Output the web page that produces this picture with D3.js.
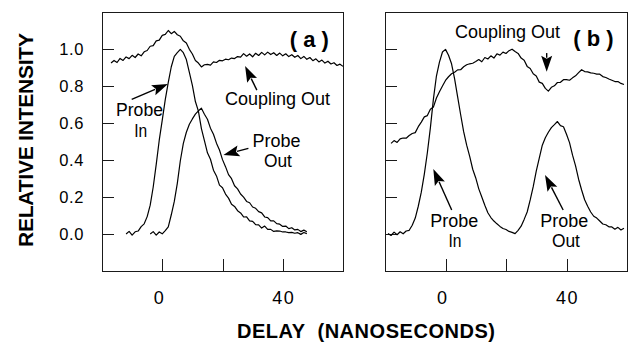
<!DOCTYPE html>
<html><head><meta charset="utf-8">
<script src="https://cdn.jsdelivr.net/npm/d3@7"></script>
<style>
body{margin:0;background:#fff;}
svg{display:block;}
text{font-family:"Liberation Sans",Arial,Helvetica,sans-serif;fill:#000;}
</style>
</head><body><div id="chart"></div>
<script>
// ---------- data ----------
const yTicks = [0.0, 0.2, 0.4, 0.6, 0.8, 1.0];
const yTickLabels = ["0.0", "0.2", "0.4", "0.6", "0.8", "1.0"];
const xTicks = [0, 20, 40];
const xTickLabels = ["0", "", "40"];
const xDomain = [-20, 60];
const yDomain = [-0.2, 1.2];
const xTitle = "DELAY  (NANOSECONDS)";
const yTitle = "RELATIVE INTENSITY";

// Panel (a): samples every 1 ns starting at the given delay
const couplingA_start = -17;
const couplingA = [
 0.924,0.938,0.927,0.949,0.938,0.957,0.948,0.966,0.954,0.973,
 0.963,0.985,0.992,1.015,1.018,1.044,1.048,1.074,1.079,1.100,
 1.083,1.095,1.077,1.069,1.044,1.033,0.998,0.973,0.938,0.924,
 0.903,0.915,0.917,0.913,0.930,0.927,0.939,0.936,0.945,0.942,
 0.951,0.948,0.959,0.956,0.975,0.961,0.973,0.958,0.977,0.965,
 0.982,0.968,0.983,0.970,0.980,0.965,0.978,0.963,0.974,0.959,
 0.969,0.955,0.965,0.948,0.960,0.944,0.954,0.937,0.947,0.930,
 0.940,0.924,0.934,0.919,0.926,0.911,0.918,0.906];
const probeInA_start = -12;
const probeInA = [
 0.000,0.014,-0.006,0.012,0.016,0.040,0.055,0.094,0.156,0.254,
 0.376,0.507,0.616,0.726,0.820,0.904,0.960,0.980,0.998,0.980,
 0.943,0.874,0.803,0.716,0.664,0.570,0.505,0.439,0.404,0.345,
 0.314,0.264,0.250,0.216,0.194,0.161,0.149,0.126,0.114,0.092,
 0.093,0.071,0.068,0.051,0.049,0.032,0.043,0.025,0.025,0.014,
 0.017,0.016,0.011,0.011,0.007,0.009,0.004,0.007,-0.002,0.008,
 0.002];
const probeOutA_start = -4;
const probeOutA = [
 0.000,0.013,-0.006,0.011,0.001,0.018,0.039,0.104,0.176,0.274,
 0.396,0.490,0.550,0.593,0.622,0.648,0.666,0.680,0.647,0.620,
 0.572,0.539,0.491,0.454,0.402,0.364,0.321,0.299,0.261,0.244,
 0.216,0.199,0.176,0.169,0.146,0.139,0.121,0.114,0.092,0.089,
 0.071,0.071,0.056,0.053,0.041,0.043,0.029,0.034,0.022,0.025,
 0.013,0.021,0.012];

// Panel (b)
const couplingB_start = -18;
const couplingB = [
 0.490,0.505,0.495,0.514,0.519,0.518,0.532,0.543,0.548,0.580,
 0.605,0.633,0.640,0.674,0.686,0.735,0.769,0.800,0.830,0.850,
 0.866,0.874,0.887,0.888,0.904,0.915,0.920,0.923,0.932,0.943,
 0.931,0.954,0.946,0.963,0.951,0.974,0.967,0.983,0.976,0.991,
 0.999,0.986,0.976,0.951,0.939,0.906,0.895,0.866,0.854,0.821,
 0.814,0.787,0.772,0.793,0.801,0.819,0.820,0.834,0.834,0.831,
 0.844,0.855,0.872,0.888,0.878,0.876,0.871,0.869,0.864,0.864,
 0.851,0.846,0.838,0.831,0.824,0.824,0.814,0.808];
const probeB_start = -19;
const probeB = [
 0.003,-0.008,0.010,-0.004,0.012,0.001,0.016,0.020,0.047,0.086,
 0.150,0.226,0.324,0.439,0.574,0.729,0.854,0.929,0.984,0.998,
 0.966,0.920,0.840,0.743,0.646,0.553,0.480,0.420,0.350,0.303,
 0.244,0.200,0.155,0.115,0.089,0.070,0.055,0.041,0.030,0.024,
 0.014,0.009,0.002,0.020,0.042,0.079,0.119,0.184,0.256,0.340,
 0.410,0.480,0.520,0.550,0.575,0.591,0.608,0.586,0.580,0.539,
 0.494,0.426,0.368,0.296,0.238,0.185,0.150,0.119,0.096,0.086,
 0.070,0.054,0.050,0.039,0.038,0.026,0.036,0.022,0.031];

// annotations in data coordinates (delay, intensity)
const labelsA = [
 {text:"Probe", t:-7.55, v:0.638, w:47},
 {text:"In", t:-7.15, v:0.524, w:13},
 {text:"Coupling Out", t:38.26, v:0.697, w:105},
 {text:"Probe", t:37.9, v:0.472, w:48},
 {text:"Out", t:38.4, v:0.36, w:28}
];
const arrowsA = [
 {from:[-10.14,0.728], to:[1.9,0.811]},
 {from:[31.4,0.778], to:[27.5,0.908]},
 {from:[28.6,0.463], to:[20.3,0.427]}
];
const labelsB = [
 {text:"Coupling Out", t:20.5, v:1.058, w:105},
 {text:"Probe", t:2.87, v:0.039, w:48},
 {text:"In", t:3.14, v:-0.069, w:13},
 {text:"Probe", t:39.3, v:0.039, w:48},
 {text:"Out", t:39.8, v:-0.069, w:28}
];
const arrowsB = [
 {from:[33.45,0.978], to:[33.45,0.877]},
 {from:[2.05,0.13], to:[-4.03,0.351]},
 {from:[38.9,0.13], to:[32.9,0.319]}
];
const panelTags = [{text:"( a )", t:48.8, v:1.011}, {text:"( b )", t:48.9, v:1.016}];

// ---------- drawing ----------
const W = 629, H = 344;
const svg = d3.select("#chart").append("svg").attr("width", W).attr("height", H)
  .style("background", "#fff");
const y = d3.scaleLinear().domain(yDomain).range([271, 12]);

function series(start, vals){ return vals.map((v,i)=>[start+i, v]); }

const panels = [
 {range:[102, 343], lines:[series(couplingA_start,couplingA), series(probeInA_start,probeInA), series(probeOutA_start,probeOutA)],
  labels:labelsA, arrows:arrowsA, tag:panelTags[0], yLabels:true},
 {range:[385, 627], lines:[series(couplingB_start,couplingB), series(probeB_start,probeB)],
  labels:labelsB, arrows:arrowsB, tag:panelTags[1], yLabels:false}
];

panels.forEach(p=>{
  const x = d3.scaleLinear().domain(xDomain).range(p.range);
  const g = svg.append("g");
  const [x0, x1] = p.range;
  const [yb, yt] = y.range();
  // frame
  g.append("rect").attr("x", x0+0.5).attr("y", yt+0.5).attr("width", x1-x0).attr("height", yb-yt)
    .attr("fill","none").attr("stroke","#1a1a1a").attr("stroke-width",1);
  // y ticks
  yTicks.forEach((v,i)=>{
    const yy = Math.round(y(v))+0.5;
    g.append("line").attr("x1",x0).attr("x2",x0+12).attr("y1",yy).attr("y2",yy)
      .attr("stroke","#1a1a1a").attr("stroke-width",1);
    if(p.yLabels){
      g.append("text").attr("x",84).attr("y",y(v)+6).attr("text-anchor","end")
        .attr("font-size",16.5).attr("letter-spacing","0.6").text(yTickLabels[i]);
    }
  });
  // x ticks
  xTicks.forEach((t,i)=>{
    const xx = Math.round(x(t))+0.5;
    g.append("line").attr("x1",xx).attr("x2",xx).attr("y1",yb).attr("y2",yb-12)
      .attr("stroke","#1a1a1a").attr("stroke-width",1);
    if(xTickLabels[i]){
      const off = xTickLabels[i]==="0" ? -3.5 : 1;
      g.append("text").attr("x",x(t)+off).attr("y",303.5).attr("text-anchor","middle")
        .attr("font-size",18).attr("letter-spacing", xTickLabels[i].length>1?"1.5":"0").text(xTickLabels[i]);
    }
  });
  // data lines
  const line = d3.line().x(d=>x(d[0])).y(d=>y(d[1]));
  p.lines.forEach(s=>{
    g.append("path").attr("d", line(s)).attr("fill","none").attr("stroke","#000")
      .attr("stroke-width",1.2).attr("stroke-linejoin","round");
  });
  // labels
  p.labels.forEach(l=>{
    g.append("text").attr("x",x(l.t)).attr("y",y(l.v)).attr("text-anchor","middle")
      .attr("font-size",17.5).attr("textLength",l.w).attr("lengthAdjust","spacingAndGlyphs").text(l.text);
  });
  g.append("text").attr("x",x(p.tag.t)).attr("y",y(p.tag.v)).attr("text-anchor","middle")
    .attr("font-size",22).attr("font-weight","bold").text(p.tag.text);
  // arrows
  p.arrows.forEach(a=>{
    const fx = x(a.from[0]), fy = y(a.from[1]), tx = x(a.to[0]), ty = y(a.to[1]);
    const dx = tx-fx, dy = ty-fy, len = Math.hypot(dx,dy);
    const ux = dx/len, uy = dy/len;
    const hl = 16, hw = 5.5;
    const bx = tx-ux*hl, by = ty-uy*hl;
    g.append("line").attr("x1",fx).attr("y1",fy).attr("x2",bx+ux*2).attr("y2",by+uy*2)
      .attr("stroke","#000").attr("stroke-width",1.4);
    g.append("path").attr("d",`M${tx},${ty}L${bx-uy*hw},${by+ux*hw}L${bx+ux*3},${by+uy*3}L${bx+uy*hw},${by-ux*hw}Z`)
      .attr("fill","#000");
  });
});

// axis titles
svg.append("text").attr("transform","translate(32.5,140) rotate(-90)").attr("text-anchor","middle")
  .attr("font-size",21).attr("font-weight","bold").attr("textLength",214).attr("lengthAdjust","spacing").text(yTitle);
svg.append("text").attr("x",366).attr("y",338).attr("text-anchor","middle")
  .attr("font-size",20).attr("font-weight","bold").attr("textLength",258).attr("lengthAdjust","spacing")
  .style("white-space","pre").text(xTitle);
</script>
</body></html>
